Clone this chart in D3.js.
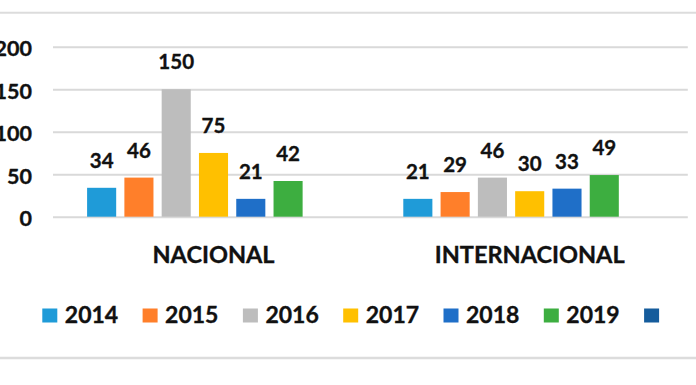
<!DOCTYPE html>
<html>
<head>
<meta charset="utf-8">
<script src="https://cdn.jsdelivr.net/npm/d3@7"></script>
<style>
  html, body { margin: 0; padding: 0; background: #fff; }
  svg { display: block; font-family: Lato, "Open Sans", sans-serif; font-weight: 700; }
  svg text { stroke: #111; stroke-width: 0.35px; }
</style>
</head>
<body>
<svg id="chart" width="696" height="385"></svg>
<script>
// ---- data ----
const categories = ["NACIONAL", "INTERNACIONAL"];
const seriesNames = ["2014", "2015", "2016", "2017", "2018", "2019", ""];
const nacional = [34, 46, 150, 75, 21, 42, null];
const internacional = [21, 29, 46, 30, 33, 49, null];
const yTicks = [0, 50, 100, 150, 200];
const seriesColors = ["#1f9bd8", "#ff7f2a", "#bdbdbd", "#ffc000", "#1f6fc8", "#3dae40", "#155c9c"];

const valuesByCategory = [nacional, internacional];

// ---- layout ----
const W = 696, H = 385;
const plotLeft = 55.4, plotRight = 687.8, plotTop = 46.7, plotBottom = 216.7;
const svg = d3.select("#chart");
svg.append("rect").attr("width", W).attr("height", H).attr("fill", "#fff");

// frame lines
svg.append("line").attr("x1", 0).attr("x2", W).attr("y1", 12.7).attr("y2", 12.7)
  .attr("stroke", "#dcdcdc").attr("stroke-width", 2);
svg.append("line").attr("x1", 0).attr("x2", W).attr("y1", 358).attr("y2", 358)
  .attr("stroke", "#dcdcdc").attr("stroke-width", 2.5);

const x0 = d3.scaleBand().domain(categories).range([plotLeft, plotRight]).padding(0);
const x1 = d3.scaleBand().domain(d3.range(seriesNames.length))
  .range([0, x0.bandwidth()]).paddingInner(0.22).paddingOuter(0.85);
const y = d3.scaleLinear().domain([0, 200]).range([plotBottom, plotTop]);

// y axis with gridlines
const yAxis = d3.axisLeft(y).tickValues(yTicks)
  .tickSize(-(plotRight - 53)).tickPadding(21).tickFormat(d3.format("d"));
const gy = svg.append("g").attr("transform", "translate(53,0)").call(yAxis);
gy.select(".domain").remove();
gy.selectAll(".tick line").attr("stroke", "#d9d9d9").attr("stroke-width", 2);
gy.selectAll(".tick text").attr("fill", "#111").attr("font-size", 21.5)
  .attr("font-family", "Lato, sans-serif").attr("font-weight", 700)
  .attr("dy", "0.42em");

// x axis (category labels)
const xAxis = d3.axisBottom(x0).tickSize(0).tickPadding(0);
const gx = svg.append("g").attr("transform", "translate(0," + 263 + ")").call(xAxis);
gx.select(".domain").remove();
gx.selectAll(".tick text").attr("fill", "#111").attr("font-size", 23.5)
  .attr("font-family", "Lato, sans-serif").attr("font-weight", 700)
  .attr("dy", 0).attr("y", 0);

// bars
const groups = svg.append("g").selectAll("g").data(categories).join("g")
  .attr("transform", d => "translate(" + x0(d) + ",0)");

const barData = (c, ci) => valuesByCategory[ci].map((v, i) => ({ i, v })).filter(d => d.v != null);

groups.each(function (c, ci) {
  const g = d3.select(this);
  const data = barData(c, ci);
  g.selectAll("rect").data(data).join("rect")
    .attr("x", d => x1(d.i))
    .attr("width", x1.bandwidth())
    .attr("y", d => y(d.v))
    .attr("height", d => y(0) - y(d.v))
    .attr("fill", d => seriesColors[d.i]);
  g.selectAll("text").data(data).join("text")
    .attr("x", d => x1(d.i) + x1.bandwidth() / 2)
    .attr("y", d => y(d.v) - 20)
    .attr("text-anchor", "middle")
    .attr("font-size", 20.5)
    .attr("fill", "#111")
    .text(d => d.v);
});

// legend
const legendX0 = 42.3, legendStep = 100.3;
const legend = svg.append("g").selectAll("g").data(seriesNames).join("g")
  .attr("transform", (d, i) => "translate(" + (legendX0 + i * legendStep) + ",0)");
legend.append("rect").attr("x", 0).attr("y", 308.5).attr("width", 15).attr("height", 14)
  .attr("fill", (d, i) => seriesColors[i]);
legend.append("text").attr("x", 22.5).attr("y", 323.3)
  .attr("font-size", 23).attr("fill", "#111").text(d => d);
</script>
</body>
</html>
